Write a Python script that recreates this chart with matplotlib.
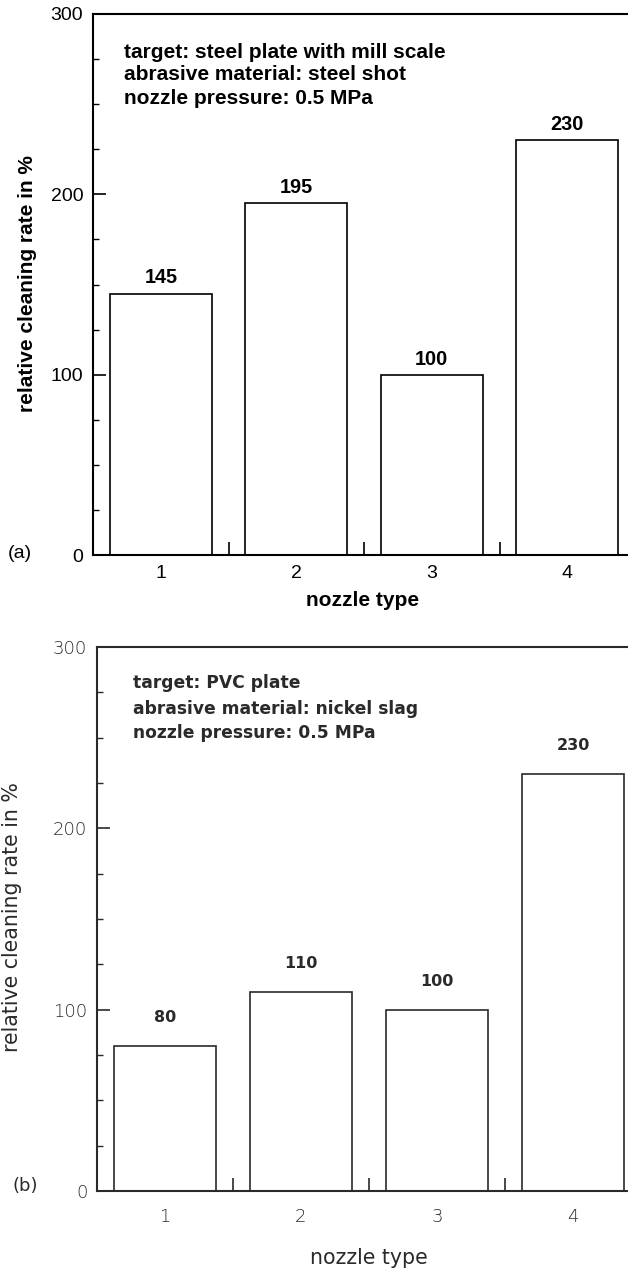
import matplotlib
matplotlib.use("Agg")
import matplotlib.pyplot as plt
from matplotlib.ticker import FixedLocator

# ---- data ----
nozzle_types = [1, 2, 3, 4]
rates_a = [145, 195, 100, 230]
rates_b = [80, 110, 100, 230]
info_a = ["target: steel plate with mill scale",
          "abrasive material: steel shot",
          "nozzle pressure: 0.5 MPa"]
info_b = ["target: PVC plate",
          "abrasive material: nickel slag",
          "nozzle pressure: 0.5 MPa"]
yticks = [0, 100, 200, 300]
yminor = [25, 50, 75, 125, 150, 175, 225, 250, 275]
xminor = [1.5, 2.5, 3.5]

W, H = 628, 1270
fig = plt.figure(figsize=(W / 100, H / 100), dpi=100)


def px_axes(l, t, r, b):
    return fig.add_axes([l / W, 1 - b / H, (r - l) / W, (b - t) / H])


def panel(ax, box, vals, info, tag, font, tickfont, color, xlim_r, lab_off,
          ylab_px, xlab_px, info_x, info_ys, fs_info, fs_val, fs_lab,
          fs_tick, tag_px, tickweight, labweight, xpad):
    l, t, r, b = box

    def ax_xy(px, py):
        return (px - l) / (r - l), (b - py) / (b - t)

    ax.bar(nozzle_types, vals, width=0.75, facecolor="white",
           edgecolor=color, linewidth=1.2, zorder=2)
    ax.set_xlim(0.5, xlim_r)
    ax.set_ylim(0, 300)
    ax.spines["right"].set_visible(False)
    for s in ["left", "bottom", "top"]:
        ax.spines[s].set_linewidth(1.5)
        ax.spines[s].set_color(color)
    ax.set_yticks(yticks)
    ax.yaxis.set_minor_locator(FixedLocator(yminor))
    ax.set_xticks(nozzle_types)
    ax.xaxis.set_minor_locator(FixedLocator(xminor))
    ax.tick_params(axis="y", which="major", direction="in", length=9.4,
                   width=1.2, color=color, pad=7, labelsize=fs_tick,
                   labelcolor=color)
    ax.tick_params(axis="y", which="minor", direction="in", length=4.3,
                   width=1.0, color=color)
    ax.tick_params(axis="x", which="major", length=0, pad=xpad,
                   labelsize=fs_tick, labelcolor=color)
    ax.tick_params(axis="x", which="minor", direction="in", length=9.4,
                   width=1.2, color=color)
    for lbl in ax.get_xticklabels() + ax.get_yticklabels():
        lbl.set_family(tickfont)
        lbl.set_fontweight(tickweight)
    ax.set_ylabel("relative cleaning rate in %", fontsize=fs_lab,
                  fontweight=labweight, family=font, color=color, va="center")
    ax.yaxis.set_label_coords(*ax_xy(*ylab_px))
    ax.set_xlabel("nozzle type", fontsize=fs_lab, fontweight=labweight,
                  family=font, color=color, va="center")
    ax.xaxis.set_label_coords(*ax_xy(*xlab_px))
    for x, v in zip(nozzle_types, vals):
        ax.annotate(str(v), (x, v), xytext=(0, lab_off),
                    textcoords="offset points", ha="center", va="center",
                    fontsize=fs_val, fontweight="bold", family=font,
                    color=color)
    for line, py in zip(info, info_ys):
        ax.text(*ax_xy(info_x, py), line, transform=ax.transAxes,
                ha="left", va="center", fontsize=fs_info, fontweight="bold",
                family=font, color=color)
    ax.text(*ax_xy(*tag_px), tag, transform=ax.transAxes, ha="left",
            va="center", fontsize=fs_tick, family=tickfont, color=color)


box1 = (93, 14, W + 1, 555)
ax1 = px_axes(*box1)
panel(ax1, box1, rates_a, info_a, "(a)", "Liberation Sans", "Liberation Sans",
      "black", 0.5 + (W + 1 - 93) / 135.5, 11.2,
      (28, 284), (363, 600), 124, (52, 75, 99),
      15, 14.3, 15, 14, (8, 553), "normal", "bold", 7)

box2 = (97, 647, W + 1, 1191)
ax2 = px_axes(*box2)
panel(ax2, box2, rates_b, info_b, "(b)", "DejaVu Sans", "DejaVu Sans",
      "#2a2a2a", 0.5 + (W + 1 - 97) / 136.0, 20.5,
      (12, 917), (369, 1258), 133, (683, 709, 733),
      12.3, 11.5, 14.8, 13, (12, 1186), "light", "normal", 12)

fig.savefig("out.png", dpi=100)
